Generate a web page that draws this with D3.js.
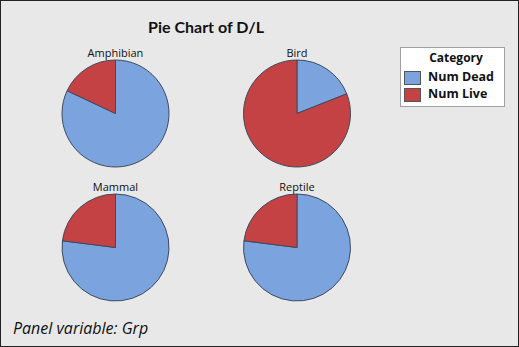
<!DOCTYPE html>
<html><head><meta charset="utf-8">
<script src="https://cdn.jsdelivr.net/npm/d3@7"></script>
<style>body{margin:0;background:#fff}svg{display:block}</style>
</head><body>
<script>
const groups = ["Amphibian", "Bird", "Mammal", "Reptile"];
const categories = ["Num Dead", "Num Live"];
const numDead = [82, 19, 77, 77];
const numLive = [18, 81, 23, 23];
const colors = ["#7ba4de", "#c44244"];

const W = 519, H = 347;
const svg = d3.select("body").append("svg").attr("width", W).attr("height", H);
svg.append("rect").attr("x", 0.5).attr("y", 0.5).attr("width", W - 1).attr("height", H - 1)
  .attr("fill", "#e8e8e8").attr("stroke", "#222").attr("stroke-width", 1);

svg.append("text").attr("x", 206).attr("y", 33).attr("text-anchor", "middle")
  .attr("font-family", "Lato, sans-serif").attr("font-weight", "bold").attr("font-size", 16)
  .attr("fill", "#111").text("Pie Chart of D/L");

const col = d3.scaleOrdinal().domain(categories).range(colors);
const cx = d3.scalePoint().domain([0, 1]).range([115.5, 297]);
const cy = d3.scalePoint().domain([0, 1]).range([113.5, 247.5]);
const r = 53.5;
const pie = d3.pie().sort(null).value(d => d.v);
const arc = d3.arc().innerRadius(0).outerRadius(r);

groups.forEach((g, i) => {
  const data = [{c: categories[0], v: numDead[i]}, {c: categories[1], v: numLive[i]}];
  const gx = cx(i % 2), gy = cy(Math.floor(i / 2));
  const gg = svg.append("g").attr("transform", `translate(${gx},${gy})`);
  gg.selectAll("path").data(pie(data)).join("path")
    .attr("d", arc).attr("fill", d => col(d.data.c))
    .attr("stroke", "#3e4a5e").attr("stroke-width", 1);
  svg.append("text").attr("x", gx).attr("y", gy - r - 3).attr("text-anchor", "middle")
    .attr("font-family", "Open Sans, sans-serif").attr("font-size", 11).attr("fill", "#111").text(g);
});

// legend
const lg = svg.append("g");
lg.append("rect").attr("x", 400.5).attr("y", 47.5).attr("width", 104).attr("height", 59)
  .attr("fill", "#fff").attr("stroke", "#a0a0a0");
lg.append("text").attr("x", 456).attr("y", 62).attr("text-anchor", "middle")
  .attr("font-family", "Open Sans, sans-serif").attr("font-weight", "bold").attr("font-size", 12)
  .attr("fill", "#111").text("Category");
categories.forEach((c, k) => {
  lg.append("rect").attr("x", 404.5).attr("y", 71.5 + k * 17).attr("width", 16).attr("height", 13)
    .attr("fill", col(c)).attr("stroke", "#555");
  lg.append("text").attr("x", 428).attr("y", 81 + k * 17)
    .attr("font-family", "Open Sans, sans-serif").attr("font-weight", "bold").attr("font-size", 12.5)
    .attr("fill", "#111").text(c);
});

svg.append("text").attr("x", 13).attr("y", 334)
  .attr("font-family", "Open Sans, sans-serif").attr("font-style", "italic").attr("font-size", 16)
  .attr("fill", "#111").text("Panel variable: Grp");
</script>
</body></html>
